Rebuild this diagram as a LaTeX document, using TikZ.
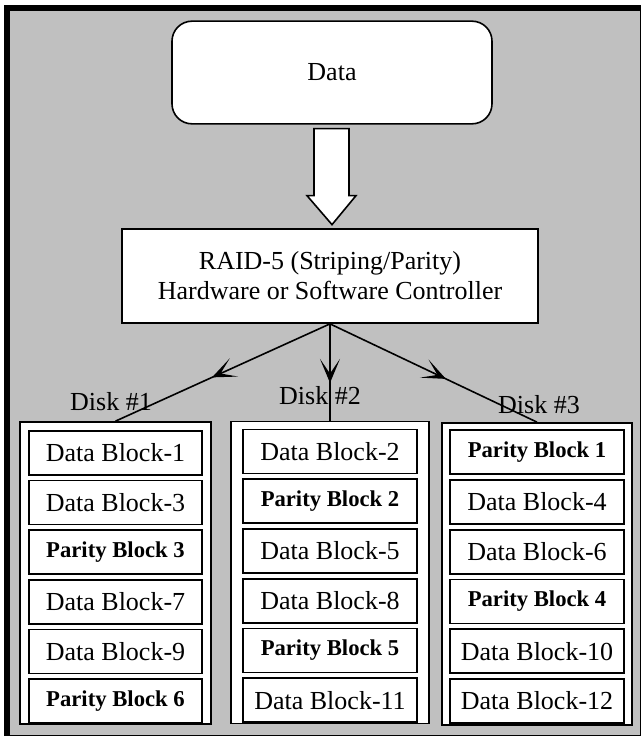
\documentclass[tikz,border=0pt]{standalone}
\usepackage{fontspec}
\setmainfont{Liberation Serif}
\usetikzlibrary{arrows.meta,positioning,calc,decorations.markings}
\definecolor{panel}{RGB}{192,192,192}

\begin{document}
\begin{tikzpicture}[
  x=0.75pt,y=-0.75pt,
  every node/.style={font=\fontsize{19.5}{22.5}\selectfont,align=center,inner sep=0pt},
  source/.style={rectangle,rounded corners=15pt,draw,fill=white,line width=1.2pt,minimum width=240pt,minimum height=77pt},
  ctrl/.style={rectangle,draw,fill=white,line width=1.3pt,minimum width=312pt,minimum height=70.5pt},
  disk/.style={rectangle,draw,fill=white,line width=1.3pt,minimum height=226.5pt},
  blk/.style={rectangle,draw,fill=white,line width=1.3pt,minimum width=130pt,minimum height=33pt},
  parity/.style={blk,font=\fontsize{17}{20}\selectfont\bfseries},
  line/.style={line width=1.2pt},
  midarrow/.style={line,decoration={markings,mark=at position #1 with {\arrow{Stealth[length=18pt,width=15pt,inset=11pt]}}},postaction={decorate}},
  bigarrow/.style={draw,fill=white,line width=1.2pt,line join=miter}
]
\useasboundingbox (0,0) rectangle (641,736);
% frame
\fill (4,5) rectangle (641,736);
\fill[panel] (9.5,11) rectangle (639.5,734.5);

\node[source] (data) at (332,72.5) {Data};
\node[ctrl] (ctrl) at (330,276) {RAID-5 (Striping/Parity)\\Hardware or Software Controller};

\draw[bigarrow] ($(data.south)+(-18,4)$) -- ($(data.south)+(17,4)$) -- ($(data.south)+(17,71)$) -- ($(data.south)+(24,71)$) -- ($(data.south)+(0,100)$) -- ($(data.south)+(-25,71)$) -- ($(data.south)+(-18,71)$) -- cycle;

% disks
\node[disk,minimum width=143pt] (d1) at (115.5,573) {};
\node[disk,minimum width=148.5pt] (d2) at (330,572.5) {};
\node[disk,minimum width=142.5pt] (d3) at (537,574) {};

\node[blk,below=6.5pt of d1.north] (b1) {Data Block-1};
\node[blk,below=3pt of b1] (b3) {Data Block-3};
\node[parity,below=3pt of b3] (p3) {Parity Block 3};
\node[blk,below=3pt of p3] (b7) {Data Block-7};
\node[blk,below=3pt of b7] (b9) {Data Block-9};
\node[parity,below=3pt of b9] (p6) {Parity Block 6};

\node[blk,below=6pt of d2.north] (b2) {Data Block-2};
\node[parity,below=3pt of b2] (p2) {Parity Block 2};
\node[blk,below=3pt of p2] (b5) {Data Block-5};
\node[blk,below=3pt of b5] (b8) {Data Block-8};
\node[parity,below=3pt of b8] (p5) {Parity Block 5};
\node[blk,below=3pt of p5] (b11) {Data Block-11};

\node[parity,below=5.5pt of d3.north] (p1) {Parity Block 1};
\node[blk,below=3pt of p1] (b4) {Data Block-4};
\node[blk,below=3pt of b4] (b6) {Data Block-6};
\node[parity,below=3pt of b6] (p4) {Parity Block 4};
\node[blk,below=3pt of p4] (b10) {Data Block-10};
\node[blk,below=3pt of b10] (b12) {Data Block-12};

\draw[midarrow=0.55] (ctrl.south) -- (d1.north);
\draw[midarrow=0.61] (ctrl.south) -- (d2.north);
\draw[midarrow=0.56] (ctrl.south) -- (d3.north);

\node[anchor=base] (l1) at (111,410) {Disk \#1};
\node[anchor=base] (l2) at (320,404) {Disk \#2};
\node[anchor=base] (l3) at (539,413) {Disk \#3};
\end{tikzpicture}
\end{document}
